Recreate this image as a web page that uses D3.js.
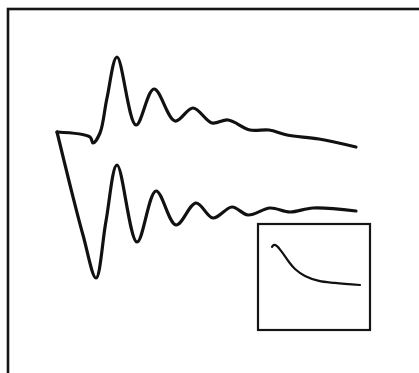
<!DOCTYPE html>
<html><head><meta charset="utf-8">
<script src="https://cdn.jsdelivr.net/npm/d3@7"></script>
<style>html,body{margin:0;padding:0;background:#fff;overflow:hidden}</style>
</head><body>
<svg id="c" width="419" height="373"></svg>
<script>
// Upper trace (time, amplitude)
const upperT = [0, 33, 36, 43, 50, 60, 79, 97, 118, 136, 155, 171, 193, 212, 230, 262, 299];
const upperV = [1, -4, -10, 0, 35, 76, 8, 44, 12, 25, 10, 13, 3, 3, -2, -6, -14];
// Lower trace (time, amplitude)
const lowerT = [0, 13, 26, 39, 49, 60, 80, 99, 119, 139, 156, 175, 191, 213, 233, 256, 299];
const lowerV = [1, -52, -102, -145, -88, -32, -109, -58, -92, -70, -85, -74, -82, -75, -79, -75, -78];
// Inset trace (time, amplitude)
const insetT = [0, 2, 5, 10, 17, 23, 33, 47, 63, 88];
const insetV = [93, 98, 95, 80, 56, 39, 22, 10, 5, 0];

const svg = d3.select("#c");
const x = d3.scaleLinear().domain([0, 300]).range([57, 357]);
const y = d3.scaleLinear().domain([-150, 80]).range([283, 53]);

// outer frame (extends past window on right/bottom)
svg.append("rect").attr("x", 8).attr("y", 9).attr("width", 430).attr("height", 400)
  .attr("fill", "none").attr("stroke", "#151515").attr("stroke-width", 2.6);

const line = d3.line().x(d => x(d[0])).y(d => y(d[1])).curve(d3.curveCatmullRom.alpha(0.5));
svg.append("path").datum(upperT.map((t, i) => [t, upperV[i]])).attr("d", line)
  .attr("fill", "none").attr("stroke", "#111").attr("stroke-width", 3.2).attr("stroke-linejoin", "round").attr("stroke-linecap", "round");
svg.append("path").datum(lowerT.map((t, i) => [t, lowerV[i]])).attr("d", line)
  .attr("fill", "none").attr("stroke", "#111").attr("stroke-width", 3.2).attr("stroke-linejoin", "round").attr("stroke-linecap", "round");

// inset
svg.append("rect").attr("x", 258).attr("y", 224).attr("width", 112).attr("height", 106)
  .attr("fill", "none").attr("stroke", "#151515").attr("stroke-width", 2.2);
const ix = d3.scaleLinear().domain([0, 88]).range([272, 360]);
const iy = d3.scaleLinear().domain([0, 100]).range([285, 244]);
const iline = d3.line().x(d => ix(d[0])).y(d => iy(d[1])).curve(d3.curveCatmullRom.alpha(0.5));
svg.append("path").datum(insetT.map((t, i) => [t, insetV[i]])).attr("d", iline)
  .attr("fill", "none").attr("stroke", "#111").attr("stroke-width", 2.2).attr("stroke-linecap", "round");
</script>
</body></html>
